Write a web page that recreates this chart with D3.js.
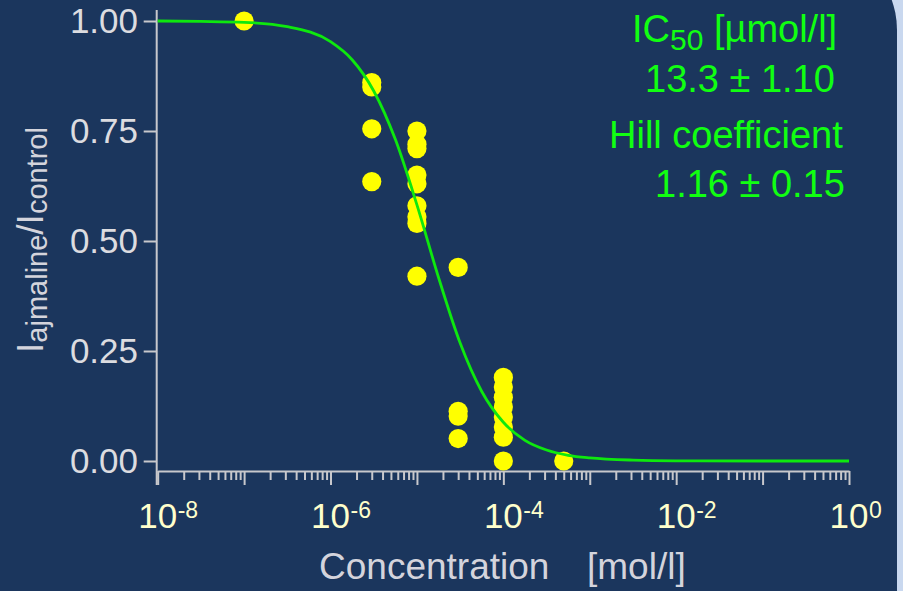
<!DOCTYPE html>
<html>
<head>
<meta charset="utf-8">
<script src="https://cdn.jsdelivr.net/npm/d3@7"></script>
<style>
  body { margin: 0; background: #c9d8ef; }
  svg { display: block; font-family: 'Liberation Sans', Arial, sans-serif; }
  .axis path, .axis line { stroke: #c8c8cc; stroke-width: 2; }
  .axis text { display: none; }
</style>
</head>
<body>
<div class="chart"></div>
<script>
// Measured concentrations (mol/l) and the normalised currents read at each one
const doseConc = [1e-7, 3e-6, 1e-5, 3e-5, 1e-4, 5e-4]
const doseValues = [
  [1.00],
  [0.86, 0.85, 0.755, 0.635],
  [0.75, 0.72, 0.71, 0.65, 0.63, 0.58, 0.555, 0.54, 0.42],
  [0.44, 0.113, 0.102, 0.051],
  [0.19, 0.168, 0.145, 0.123, 0.10, 0.077, 0.054, 0.0],
  [0.0]
]

// Fitted curve (log10 concentration, fraction)
const curveLogConc = [-8, -7.5, -7, -6.5, -6, -5.75, -5.5, -5.25, -5, -4.75, -4.5, -4.25, -4, -3.75, -3.5, -3.25, -3, -2.5, -2, -1, 0]
const curveFrac = [1.0, 0.999, 0.997, 0.987, 0.953, 0.912, 0.841, 0.731, 0.582, 0.417, 0.268, 0.158, 0.088, 0.047, 0.025, 0.013, 0.007, 0.002, 0.0005, 0.0, 0.0]

const yTicks = [0, 0.25, 0.5, 0.75, 1]
const xLabelExps = [-8, -6, -4, -2, 0]

const legendLines = ['13.3 \u00b1 1.10', 'Hill coefficient', '1.16 \u00b1 0.15']

const width = 903
const height = 591

const x = d3.scaleLog().domain([1e-8, 1]).range([157.7, 849])
const y = d3.scaleLinear().domain([0, 1]).range([461, 21])
const xAxisY = 471

const svg = d3.select('.chart')
  .append('svg')
  .attr('width', width)
  .attr('height', height)

// panel background with the rounded right edge
svg.append('rect')
  .attr('width', width)
  .attr('height', height)
  .attr('fill', '#c9d8ef')

svg.append('rect')
  .attr('x', -200)
  .attr('y', -58)
  .attr('width', 1097)
  .attr('height', 800)
  .attr('rx', 88)
  .attr('fill', '#1b365d')

// y axis
svg.append('g')
  .attr('class', 'axis axis__y')
  .attr('transform', `translate(${x(1e-8) - 1}, 0)`)
  .call(d3.axisLeft(y).tickValues(yTicks).tickSize(13).tickSizeOuter(0))
  .call(g => g.select('.domain').remove())

svg.append('line')
  .attr('x1', x(1e-8) - 1)
  .attr('x2', x(1e-8) - 1)
  .attr('y1', y(1) - 11)
  .attr('y2', xAxisY + 14)
  .attr('stroke', '#c8c8cc')
  .attr('stroke-width', 2)

svg.append('g')
  .selectAll('text')
  .data(yTicks)
  .join('text')
  .attr('x', 138)
  .attr('y', d => y(d))
  .attr('dy', '0.35em')
  .attr('text-anchor', 'end')
  .attr('fill', '#dcdce0')
  .attr('font-size', 35)
  .text(d3.format('.2f'))

// x axis: minor and major ticks
const minorTicks = []
const majorTicks = []
for (let e = -8; e <= 0; e++) {
  majorTicks.push(Math.pow(10, e))
  if (e < 0) {
    for (let m = 2; m <= 9; m++) minorTicks.push(m * Math.pow(10, e))
  }
}

svg.append('g')
  .attr('class', 'axis axis__x')
  .attr('transform', `translate(0, ${xAxisY})`)
  .call(d3.axisBottom(x).tickValues(minorTicks).tickSize(9).tickSizeOuter(0))

svg.append('g')
  .attr('class', 'axis axis__x')
  .attr('transform', `translate(0, ${xAxisY})`)
  .call(d3.axisBottom(x).tickValues(majorTicks).tickSize(14).tickSizeOuter(0))
  .call(g => g.select('.domain').remove())

const xLabels = svg.append('g')
  .selectAll('g')
  .data(xLabelExps)
  .join('g')
  .attr('transform', d => `translate(${x(Math.pow(10, d))}, 528)`)

xLabels.append('text')
  .attr('text-anchor', 'middle')
  .attr('fill', '#ffffcc')
  .attr('font-size', 35)
  .text('10')

xLabels.append('text')
  .attr('x', 20)
  .attr('y', -10)
  .attr('fill', '#ffffcc')
  .attr('font-size', 23)
  .text(d => d)

// axis titles
const xTitle = svg.append('text')
  .attr('y', 579)
  .attr('fill', '#d4d4dc')
  .attr('font-size', 37)
xTitle.append('tspan').attr('x', 319).text('Concentration')
xTitle.append('tspan').attr('x', 587).text('[mol/l]')

const yTitle = svg.append('text')
  .attr('transform', 'translate(43, 240) rotate(-90)')
  .attr('text-anchor', 'middle')
  .attr('fill', '#d4d4dc')
  .attr('font-size', 37)
yTitle.append('tspan').text('I')
yTitle.append('tspan').attr('font-size', 29).attr('dy', 4).text('ajmaline')
yTitle.append('tspan').attr('dy', -4).text('/I')
yTitle.append('tspan').attr('font-size', 29).attr('dy', 4).text('control')

// data points
const points = doseConc.flatMap((c, i) => doseValues[i].map(v => ({ conc: c, value: v })))

svg.append('g')
  .selectAll('circle')
  .data(points)
  .join('circle')
  .attr('cx', d => x(d.conc))
  .attr('cy', d => y(d.value))
  .attr('r', 9.6)
  .attr('fill', '#ffff00')

// fitted curve
const line = d3.line()
  .x(d => x(Math.pow(10, d[0])))
  .y(d => y(d[1]))
  .curve(d3.curveMonotoneX)

svg.append('path')
  .datum(d3.zip(curveLogConc, curveFrac))
  .attr('d', line)
  .attr('fill', 'none')
  .attr('stroke', '#0ee80e')
  .attr('stroke-width', 2.8)

// fit results
const legend = svg.append('g')
  .attr('fill', '#11ff11')
  .attr('font-size', 38)

const ic = legend.append('text').attr('x', 632).attr('y', 42)
ic.append('tspan').text('IC')
ic.append('tspan').attr('font-size', 30).attr('dy', 8).text('50')
ic.append('tspan').attr('dy', -8).text(' [\u00b5mol/l]')

legend.selectAll('.legend__line')
  .data(legendLines)
  .join('text')
  .attr('class', 'legend__line')
  .attr('x', (d, i) => [645, 609, 655][i])
  .attr('y', (d, i) => [92, 148, 197][i])
  .text(d => d)
</script>
</body>
</html>
